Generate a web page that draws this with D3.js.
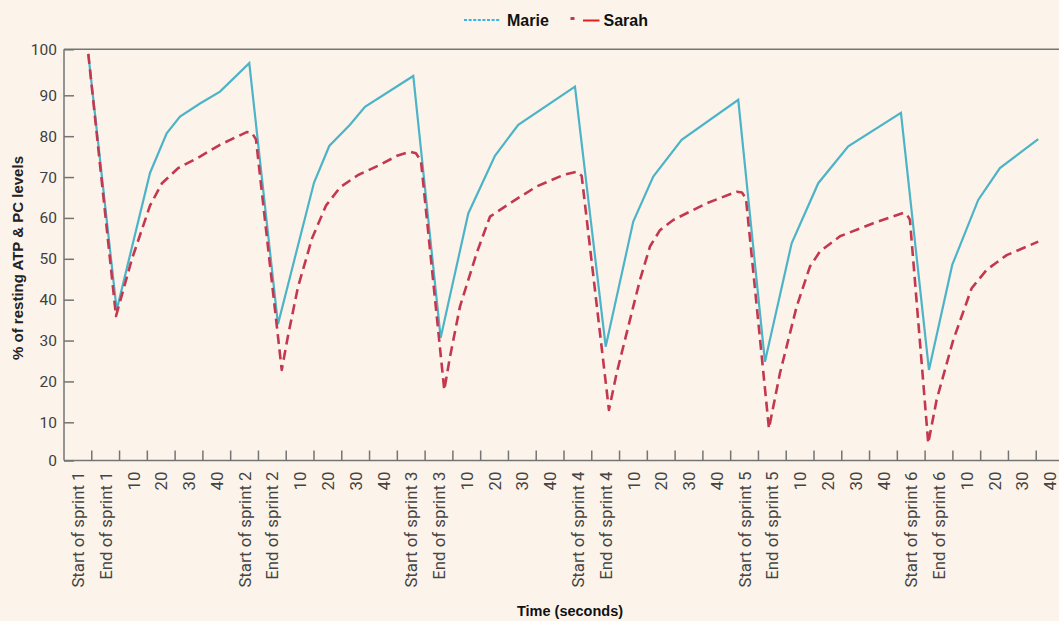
<!DOCTYPE html>
<html>
<head>
<meta charset="utf-8">
<script src="https://cdn.jsdelivr.net/npm/d3@7"></script>
<style>
  html, body { margin: 0; padding: 0; background: #fcf4eb; }
  svg { display: block; }
</style>
</head>
<body>
<svg id="chart" width="1059" height="621"></svg>
<script>
// Category labels along the time axis
const categories = [
  "Start of sprint 1", "End of sprint 1", "10", "20", "30", "40",
  "Start of sprint 2", "End of sprint 2", "10", "20", "30", "40",
  "Start of sprint 3", "End of sprint 3", "10", "20", "30", "40",
  "Start of sprint 4", "End of sprint 4", "10", "20", "30", "40",
  "Start of sprint 5", "End of sprint 5", "10", "20", "30", "40",
  "Start of sprint 6", "End of sprint 6", "10", "20", "30", "40"
];

const yTicks = [0, 10, 20, 30, 40, 50, 60, 70, 80, 90, 100];

// Position along the time axis, in category slots (0 = left edge of the first slot)
const marieT = [0.875, 1.897, 3.096, 3.697, 4.176, 4.896, 5.616, 6.670,
  7.703, 8.999, 9.550, 10.295, 10.835, 12.574,
  13.560, 14.554, 15.515, 16.354, 18.395,
  19.500, 20.493, 21.213, 22.235, 24.273,
  25.234, 26.195, 27.153, 28.233, 30.130,
  31.138, 31.976, 32.912, 33.693, 35.072];
// % of resting ATP & PC levels
const marieV = [99.0, 37.5, 71.0, 80.7, 84.8, 88.0, 90.8, 97.0,
  34.0, 68.6, 77.6, 82.8, 87.2, 94.2,
  30.7, 61.1, 75.2, 82.8, 91.9,
  28.5, 59.1, 70.1, 79.1, 88.9,
  24.8, 53.8, 68.5, 77.5, 85.7,
  22.8, 48.5, 64.4, 72.2, 79.3];

const sarahT = [0.875, 1.872, 2.448, 3.096, 3.528, 4.114, 4.896, 5.616, 6.577, 6.767, 6.911,
  7.838, 8.060, 8.420, 8.930, 9.430, 9.940, 10.590, 11.375, 12.020, 12.455, 12.670, 12.850,
  13.690, 13.895, 14.255, 14.856, 15.335, 16.055, 17.016, 17.974, 18.456, 18.636,
  19.618, 19.895, 20.493, 20.734, 21.094, 21.454, 21.933, 23.135, 24.215, 24.406, 24.550,
  25.378, 25.774, 26.375, 26.854, 27.214, 27.934, 29.133, 30.213, 30.346, 30.454,
  31.113, 31.415, 32.012, 32.675, 33.215, 33.935, 35.072];
const sarahV = [99.0, 36.0, 50.0, 63.0, 68.5, 72.2, 75.0, 77.9, 81.0, 80.8, 79.2,
  22.8, 31.0, 43.0, 55.0, 63.0, 67.5, 70.5, 73.0, 75.3, 76.2, 75.8, 74.0,
  17.9, 26.0, 38.3, 51.4, 60.3, 63.6, 67.7, 70.5, 71.3, 70.3,
  13.0, 22.0, 38.3, 44.8, 53.0, 57.0, 59.5, 63.6, 66.4, 66.2, 64.8,
  8.4, 22.0, 38.3, 48.1, 51.8, 55.5, 58.7, 61.2, 60.8, 59.5,
  4.5, 15.5, 30.1, 42.8, 47.3, 50.9, 54.2];

const seriesNames = ["Marie", "Sarah"];
const seriesColors = { Marie: "#4db3c7", Sarah: "#c3384f" };

const svg = d3.select("#chart");
const plotLeft = 64, plotRight = 1064, plotTop = 49.3, plotBottom = 460.5;

svg.append("rect").attr("width", 1059).attr("height", 621).attr("fill", "#fcf4eb");

const xBand = d3.scaleBand().domain(d3.range(categories.length)).range([plotLeft, plotRight]).padding(0);
const xPos = d3.scaleLinear().domain([0, categories.length]).range([plotLeft, plotRight]);
// The printed value axis is spaced slightly unevenly near both ends
const y = d3.scaleLinear().domain([0, 10, 90, 100]).range([plotBottom, 422.3, 95.3, plotTop]);

const axisColor = "#747474";

// Y axis with inward ticks
const yAxis = svg.append("g")
  .attr("transform", `translate(${plotLeft},0)`)
  .call(d3.axisLeft(y).tickValues(yTicks).tickSize(-10).tickPadding(7).tickFormat(d3.format("d")));
yAxis.select(".domain").remove();
yAxis.selectAll(".tick line").attr("stroke", axisColor).attr("stroke-width", 1.5);
yAxis.selectAll(".tick text")
  .attr("font-family", "Roboto, sans-serif").attr("font-size", 15.5).attr("fill", "#3f3f3f");

// Frame: left, top, bottom
svg.append("line").attr("x1", plotLeft).attr("x2", plotLeft).attr("y1", plotTop).attr("y2", plotBottom)
  .attr("stroke", axisColor).attr("stroke-width", 1.5);
svg.append("line").attr("x1", plotLeft).attr("x2", plotRight).attr("y1", plotTop).attr("y2", plotTop)
  .attr("stroke", axisColor).attr("stroke-width", 1.5);
svg.append("line").attr("x1", plotLeft).attr("x2", plotRight).attr("y1", plotBottom).attr("y2", plotBottom)
  .attr("stroke", axisColor).attr("stroke-width", 1.5);

// X ticks at the slot boundaries, pointing inward
svg.append("g").selectAll("line")
  .data(d3.range(1, categories.length))
  .join("line")
  .attr("x1", i => xBand(i)).attr("x2", i => xBand(i))
  .attr("y1", plotBottom).attr("y2", plotBottom - 10)
  .attr("stroke", axisColor).attr("stroke-width", 1.5);

// X labels, rotated and centred in each slot
svg.append("g").selectAll("text")
  .data(categories)
  .join("text")
  .attr("transform", (d, i) => `translate(${xBand(i) + xBand.bandwidth() / 2},${plotBottom + 11}) rotate(-90)`)
  .attr("dy", "0.36em")
  .attr("text-anchor", "end")
  .attr("font-family", "Roboto, sans-serif")
  .attr("font-size", 16.8)
  .attr("fill", "#444")
  .text(d => d);

// Lines
const lineGen = d3.line().x(d => xPos(d[0])).y(d => y(d[1]));
const marie = marieT.map((t, i) => [t, marieV[i]]);
const sarah = sarahT.map((t, i) => [t, sarahV[i]]);

svg.append("path").datum(marie)
  .attr("d", lineGen)
  .attr("fill", "none")
  .attr("stroke", seriesColors.Marie)
  .attr("stroke-width", 2.2)
  .attr("stroke-linejoin", "miter");

svg.append("path").datum(sarah)
  .attr("d", lineGen)
  .attr("fill", "none")
  .attr("stroke", seriesColors.Sarah)
  .attr("stroke-width", 2.6)
  .attr("stroke-dasharray", "10,5.5")
  .attr("stroke-linejoin", "round");

// Axis titles
svg.append("text")
  .attr("x", 570).attr("y", 616)
  .attr("text-anchor", "middle")
  .attr("font-family", "Liberation Sans, Arial, sans-serif")
  .attr("font-weight", "bold").attr("font-size", 14.5).attr("fill", "#111")
  .text("Time (seconds)");

svg.append("text")
  .attr("transform", "translate(23,258) rotate(-90)")
  .attr("text-anchor", "middle")
  .attr("font-family", "Liberation Sans, Arial, sans-serif")
  .attr("font-weight", "bold").attr("font-size", 15).attr("fill", "#222")
  .text("% of resting ATP & PC levels");

// Legend
const legend = svg.append("g");
legend.append("line").attr("x1", 464).attr("x2", 500).attr("y1", 20).attr("y2", 20)
  .attr("stroke", "#35b5ea").attr("stroke-width", 2).attr("stroke-dasharray", "3,1.6");
legend.append("text").attr("x", 507).attr("y", 26)
  .attr("font-family", "Liberation Sans, Arial, sans-serif")
  .attr("font-weight", "bold").attr("font-size", 16).attr("fill", "#111")
  .text(seriesNames[0]);
legend.append("line").attr("x1", 570.5).attr("x2", 574.5).attr("y1", 18.5).attr("y2", 18.5)
  .attr("stroke", seriesColors.Sarah).attr("stroke-width", 3);
legend.append("line").attr("x1", 583).attr("x2", 599.5).attr("y1", 20.5).attr("y2", 20.5)
  .attr("stroke", "#e0201f").attr("stroke-width", 2);
legend.append("text").attr("x", 603.5).attr("y", 26)
  .attr("font-family", "Liberation Sans, Arial, sans-serif")
  .attr("font-weight", "bold").attr("font-size", 16).attr("fill", "#111")
  .text(seriesNames[1]);
</script>
</body>
</html>
